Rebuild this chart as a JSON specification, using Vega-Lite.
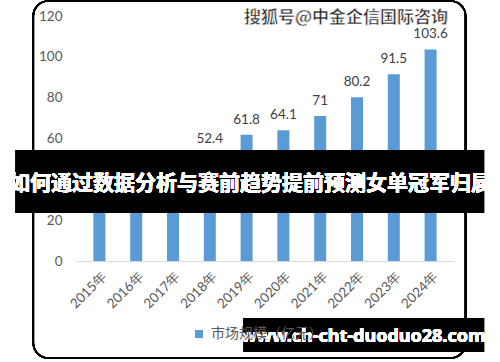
{
  "$schema": "https://vega.github.io/schema/vega-lite/v6.json",
  "width": 378,
  "height": 245,
  "autosize": {"type": "none"},
  "padding": {"left": 76, "top": 16, "right": 46, "bottom": 101},
  "background": "white",
  "config": {
    "view": {"stroke": null},
    "axis": {"labelFont": "Lato", "labelFontSize": 13.5, "labelColor": "#595959", "ticks": false, "grid": false, "title": null, "labelOverlap": false}
  },
  "data": {
    "values": [
      {"year": 2015, "value": 33.2, "series": "市场规模（亿元）"},
      {"year": 2016, "value": 38.9, "series": "市场规模（亿元）"},
      {"year": 2017, "value": 43.5, "series": "市场规模（亿元）"},
      {"year": 2018, "value": 52.4, "series": "市场规模（亿元）"},
      {"year": 2019, "value": 61.8, "series": "市场规模（亿元）"},
      {"year": 2020, "value": 64.1, "series": "市场规模（亿元）"},
      {"year": 2021, "value": 71, "series": "市场规模（亿元）"},
      {"year": 2022, "value": 80.2, "series": "市场规模（亿元）"},
      {"year": 2023, "value": 91.5, "series": "市场规模（亿元）"},
      {"year": 2024, "value": 103.6, "series": "市场规模（亿元）"}
    ]
  },
  "encoding": {
    "x": {
      "field": "year", "type": "quantitative",
      "scale": {"domain": [2014.5, 2024.5], "nice": false, "zero": false},
      "axis": {"values": [2015, 2016, 2017, 2018, 2019, 2020, 2021, 2022, 2023, 2024], "labelExpr": "datum.value + '年'", "labelAngle": -45, "labelPadding": 8, "labelOverlap": false, "domainColor": "#d9d9d9", "domainWidth": 1}
    },
    "y": {
      "field": "value", "type": "quantitative",
      "scale": {"domain": [0, 120], "nice": false},
      "axis": {"values": [0, 20, 40, 60, 80, 100, 120], "domain": false, "labelPadding": 14}
    }
  },
  "layer": [
    {
      "mark": {"type": "rect", "fill": "black"},
      "encoding": {"x": {"datum": 2012.7275}, "x2": {"datum": 2013.2037}, "y": {"datum": 54.37}, "y2": {"datum": 23.51}}
    },
    {
      "mark": {"type": "rect", "fill": "black"},
      "encoding": {"x": {"datum": 2024.9497}, "x2": {"datum": 2025.4524}, "y": {"datum": 54.37}, "y2": {"datum": 23.51}}
    },
    {
      "mark": {"type": "rect", "fill": "black"},
      "encoding": {"x": {"datum": 2024.9497}, "x2": {"datum": 2025.4524}, "y": {"datum": -27.92}, "y2": {"datum": -44.57}}
    },
    {
      "mark": {"type": "rect", "fill": null, "stroke": "black", "strokeWidth": 1.5, "cornerRadius": 15},
      "encoding": {"x": {"datum": 2013.2037}, "x2": {"datum": 2024.9497}, "y": {"datum": 127.35}, "y2": {"datum": -47.51}}
    },
    {
      "mark": {"type": "bar", "size": 12},
      "encoding": {
        "color": {"field": "series", "type": "nominal", "scale": {"range": ["#5b9bd5"]},
          "legend": {"title": null, "orient": "none", "legendX": 116, "legendY": 311, "symbolType": "square", "symbolSize": 64, "symbolStrokeWidth": 0, "labelFont": "Noto Sans CJK SC", "labelFontSize": 14, "labelColor": "#595959", "labelOffset": 5}}
      }
    },
    {
      "mark": {"type": "text", "baseline": "bottom", "dy": -8, "font": "Lato", "fontSize": 13.5, "color": "#404040"},
      "encoding": {"text": {"field": "value", "type": "quantitative"}}
    },
    {
      "mark": {"type": "text", "align": "right", "baseline": "middle", "font": "Noto Sans CJK SC", "fontWeight": "bold", "fontSize": 17, "fill": "#222222", "stroke": "white", "strokeWidth": 0.6},
      "encoding": {"x": {"datum": 2024.4735}, "y": {"datum": 119.02}, "text": {"value": "搜狐号@中金企信国际咨询"}}
    },
    {
      "mark": {"type": "rect", "fill": "black", "opacity": 0.6},
      "encoding": {"x": {"datum": 2013.2037}, "x2": {"datum": 2024.9497}, "y": {"datum": 54.37}, "y2": {"datum": 23.51}}
    },
    {
      "mark": {"type": "text", "align": "center", "baseline": "middle", "font": "Noto Sans CJK SC", "fontWeight": "bold", "fontSize": 21, "fill": "white"},
      "encoding": {"x": {"datum": 2019.1032}, "y": {"datum": 37.71}, "text": {"value": "如何通过数据分析与赛前趋势提前预测女单冠军归属"}}
    },
    {
      "mark": {"type": "rect", "fill": "black", "opacity": 0.6},
      "encoding": {"x": {"datum": 2018.918}, "x2": {"datum": 2024.9497}, "y": {"datum": -27.92}, "y2": {"datum": -44.57}}
    },
    {
      "mark": {"type": "text", "align": "center", "baseline": "middle", "font": "Noto Sans", "fontWeight": "bold", "fontSize": 18, "fill": "white"},
      "encoding": {"x": {"datum": 2022.172}, "y": {"datum": -37.22}, "text": {"value": "www.ch-cht-duoduo28.com"}}
    }
  ]
}
